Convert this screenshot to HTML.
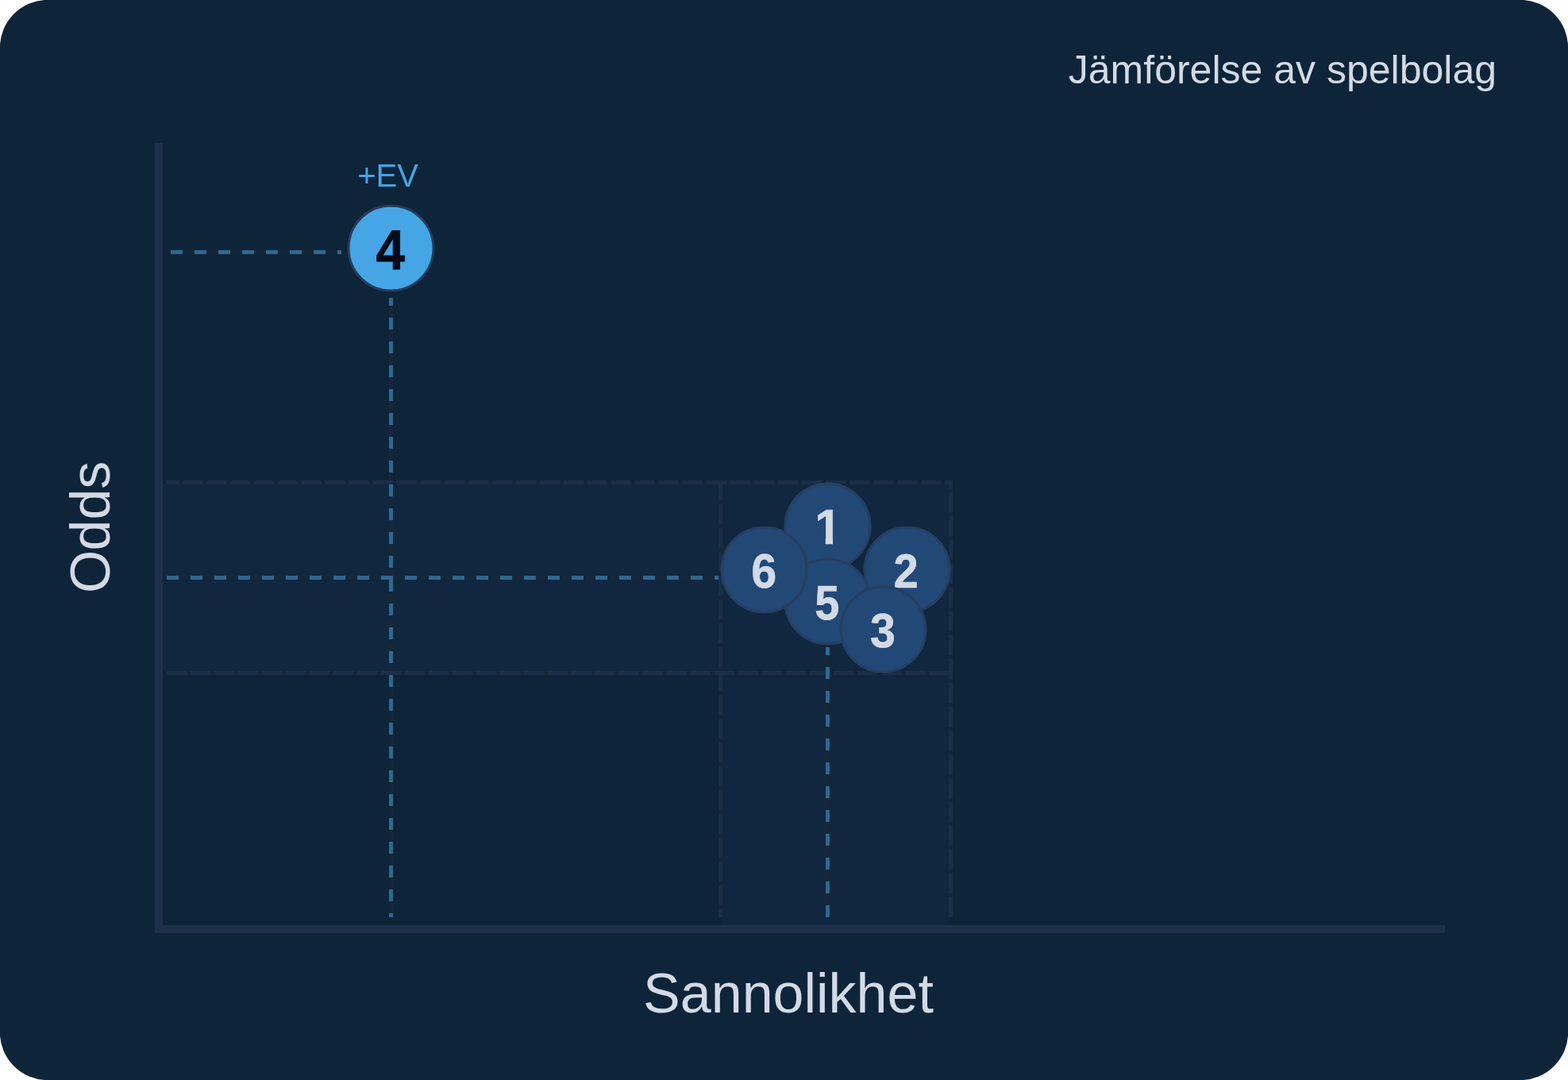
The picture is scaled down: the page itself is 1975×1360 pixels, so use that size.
<!DOCTYPE html>
<html lang="sv">
<head>
<meta charset="utf-8">
<title>Jämförelse av spelbolag</title>
<style>
html,body{margin:0;padding:0;background:#ffffff;}
body{width:1975px;height:1360px;overflow:hidden;font-family:"Liberation Sans",sans-serif;}
.card{position:absolute;left:0;top:0;width:1975px;height:1360px;overflow:hidden;}
svg{position:absolute;left:0;top:0;display:block;}
svg text{font-family:"Liberation Sans",sans-serif;}
.geo rect{shape-rendering:crispEdges;}
</style>
</head>
<body>
<div class="card">
<svg width="1975" height="1360" viewBox="0 0 1975 1360">
<rect x="-0.13" y="-0.13" width="1975.26" height="1360.26" rx="60" ry="60" fill="#0e2439"/>
<defs><clipPath id="one"><path d="M-2 -48 H22.7 V2 H13.5 V-7.2 H-2 Z"/></clipPath></defs>
<g class="geo">
<rect x="205" y="610" width="990" height="235" fill="#11273f"/>
<rect x="910" y="610" width="285" height="555" fill="#11273f"/>
<rect x="215" y="315" width="215" height="5" fill="#172638"/>
<rect x="490" y="375" width="5" height="780" fill="#172638"/>
<rect x="210" y="725" width="695" height="5" fill="#172638"/>
<rect x="1040" y="815" width="5" height="340" fill="#172638"/>
<rect x="210" y="605" width="990" height="5" fill="#152638"/>
<rect x="210" y="605" width="15" height="5" fill="#1b2e47"/>
<rect x="230" y="605" width="25" height="5" fill="#1b2e47"/>
<rect x="260" y="605" width="25" height="5" fill="#1b2e47"/>
<rect x="290" y="605" width="25" height="5" fill="#1b2e47"/>
<rect x="320" y="605" width="25" height="5" fill="#1b2e47"/>
<rect x="350" y="605" width="25" height="5" fill="#1b2e47"/>
<rect x="380" y="605" width="25" height="5" fill="#1b2e47"/>
<rect x="410" y="605" width="25" height="5" fill="#1b2e47"/>
<rect x="440" y="605" width="25" height="5" fill="#1b2e47"/>
<rect x="470" y="605" width="25" height="5" fill="#1b2e47"/>
<rect x="500" y="605" width="25" height="5" fill="#1b2e47"/>
<rect x="530" y="605" width="25" height="5" fill="#1b2e47"/>
<rect x="560" y="605" width="25" height="5" fill="#1b2e47"/>
<rect x="590" y="605" width="25" height="5" fill="#1b2e47"/>
<rect x="620" y="605" width="25" height="5" fill="#1b2e47"/>
<rect x="650" y="605" width="25" height="5" fill="#1b2e47"/>
<rect x="680" y="605" width="25" height="5" fill="#1b2e47"/>
<rect x="710" y="605" width="25" height="5" fill="#1b2e47"/>
<rect x="740" y="605" width="25" height="5" fill="#1b2e47"/>
<rect x="770" y="605" width="25" height="5" fill="#1b2e47"/>
<rect x="800" y="605" width="25" height="5" fill="#1b2e47"/>
<rect x="830" y="605" width="25" height="5" fill="#1b2e47"/>
<rect x="860" y="605" width="25" height="5" fill="#1b2e47"/>
<rect x="890" y="605" width="25" height="5" fill="#1b2e47"/>
<rect x="920" y="605" width="25" height="5" fill="#1b2e47"/>
<rect x="950" y="605" width="25" height="5" fill="#1b2e47"/>
<rect x="980" y="605" width="25" height="5" fill="#1b2e47"/>
<rect x="1010" y="605" width="25" height="5" fill="#1b2e47"/>
<rect x="1040" y="605" width="25" height="5" fill="#1b2e47"/>
<rect x="1070" y="605" width="25" height="5" fill="#1b2e47"/>
<rect x="1100" y="605" width="25" height="5" fill="#1b2e47"/>
<rect x="1130" y="605" width="25" height="5" fill="#1b2e47"/>
<rect x="1160" y="605" width="25" height="5" fill="#1b2e47"/>
<rect x="1190" y="605" width="10" height="5" fill="#1b2e47"/>
<rect x="210" y="845" width="985" height="5" fill="#152638"/>
<rect x="210" y="845" width="25" height="5" fill="#1b2e47"/>
<rect x="240" y="845" width="25" height="5" fill="#1b2e47"/>
<rect x="270" y="845" width="25" height="5" fill="#1b2e47"/>
<rect x="300" y="845" width="25" height="5" fill="#1b2e47"/>
<rect x="330" y="845" width="25" height="5" fill="#1b2e47"/>
<rect x="360" y="845" width="25" height="5" fill="#1b2e47"/>
<rect x="390" y="845" width="25" height="5" fill="#1b2e47"/>
<rect x="420" y="845" width="25" height="5" fill="#1b2e47"/>
<rect x="450" y="845" width="25" height="5" fill="#1b2e47"/>
<rect x="480" y="845" width="25" height="5" fill="#1b2e47"/>
<rect x="510" y="845" width="25" height="5" fill="#1b2e47"/>
<rect x="540" y="845" width="25" height="5" fill="#1b2e47"/>
<rect x="570" y="845" width="25" height="5" fill="#1b2e47"/>
<rect x="600" y="845" width="25" height="5" fill="#1b2e47"/>
<rect x="630" y="845" width="25" height="5" fill="#1b2e47"/>
<rect x="660" y="845" width="25" height="5" fill="#1b2e47"/>
<rect x="690" y="845" width="25" height="5" fill="#1b2e47"/>
<rect x="720" y="845" width="25" height="5" fill="#1b2e47"/>
<rect x="750" y="845" width="25" height="5" fill="#1b2e47"/>
<rect x="780" y="845" width="25" height="5" fill="#1b2e47"/>
<rect x="810" y="845" width="25" height="5" fill="#1b2e47"/>
<rect x="840" y="845" width="25" height="5" fill="#1b2e47"/>
<rect x="870" y="845" width="25" height="5" fill="#1b2e47"/>
<rect x="900" y="845" width="25" height="5" fill="#1b2e47"/>
<rect x="930" y="845" width="25" height="5" fill="#1b2e47"/>
<rect x="960" y="845" width="25" height="5" fill="#1b2e47"/>
<rect x="990" y="845" width="25" height="5" fill="#1b2e47"/>
<rect x="1020" y="845" width="25" height="5" fill="#1b2e47"/>
<rect x="1050" y="845" width="25" height="5" fill="#1b2e47"/>
<rect x="1080" y="845" width="25" height="5" fill="#1b2e47"/>
<rect x="1110" y="845" width="25" height="5" fill="#1b2e47"/>
<rect x="1140" y="845" width="25" height="5" fill="#1b2e47"/>
<rect x="1170" y="845" width="25" height="5" fill="#1b2e47"/>
<rect x="905" y="610" width="5" height="545" fill="#152638"/>
<rect x="905" y="610" width="5" height="20" fill="#1b2e47"/>
<rect x="905" y="635" width="5" height="25" fill="#1b2e47"/>
<rect x="905" y="665" width="5" height="25" fill="#1b2e47"/>
<rect x="905" y="695" width="5" height="25" fill="#1b2e47"/>
<rect x="905" y="725" width="5" height="25" fill="#1b2e47"/>
<rect x="905" y="755" width="5" height="25" fill="#1b2e47"/>
<rect x="905" y="785" width="5" height="25" fill="#1b2e47"/>
<rect x="905" y="815" width="5" height="25" fill="#1b2e47"/>
<rect x="905" y="845" width="5" height="25" fill="#1b2e47"/>
<rect x="905" y="875" width="5" height="25" fill="#1b2e47"/>
<rect x="905" y="905" width="5" height="25" fill="#1b2e47"/>
<rect x="905" y="935" width="5" height="25" fill="#1b2e47"/>
<rect x="905" y="965" width="5" height="25" fill="#1b2e47"/>
<rect x="905" y="995" width="5" height="25" fill="#1b2e47"/>
<rect x="905" y="1025" width="5" height="25" fill="#1b2e47"/>
<rect x="905" y="1055" width="5" height="25" fill="#1b2e47"/>
<rect x="905" y="1085" width="5" height="25" fill="#1b2e47"/>
<rect x="905" y="1115" width="5" height="25" fill="#1b2e47"/>
<rect x="905" y="1145" width="5" height="10" fill="#1b2e47"/>
<rect x="1195" y="605" width="5" height="550" fill="#152638"/>
<rect x="1195" y="605" width="5" height="10" fill="#1b2e47"/>
<rect x="1195" y="620" width="5" height="25" fill="#1b2e47"/>
<rect x="1195" y="650" width="5" height="25" fill="#1b2e47"/>
<rect x="1195" y="680" width="5" height="25" fill="#1b2e47"/>
<rect x="1195" y="710" width="5" height="25" fill="#1b2e47"/>
<rect x="1195" y="740" width="5" height="25" fill="#1b2e47"/>
<rect x="1195" y="770" width="5" height="25" fill="#1b2e47"/>
<rect x="1195" y="800" width="5" height="25" fill="#1b2e47"/>
<rect x="1195" y="830" width="5" height="25" fill="#1b2e47"/>
<rect x="1195" y="860" width="5" height="25" fill="#1b2e47"/>
<rect x="1195" y="890" width="5" height="25" fill="#1b2e47"/>
<rect x="1195" y="920" width="5" height="25" fill="#1b2e47"/>
<rect x="1195" y="950" width="5" height="25" fill="#1b2e47"/>
<rect x="1195" y="980" width="5" height="25" fill="#1b2e47"/>
<rect x="1195" y="1010" width="5" height="25" fill="#1b2e47"/>
<rect x="1195" y="1040" width="5" height="25" fill="#1b2e47"/>
<rect x="1195" y="1070" width="5" height="25" fill="#1b2e47"/>
<rect x="1195" y="1100" width="5" height="25" fill="#1b2e47"/>
<rect x="1195" y="1130" width="5" height="25" fill="#1b2e47"/>
<rect x="215" y="315" width="15" height="5" fill="#2f6891"/>
<rect x="245" y="315" width="15" height="5" fill="#2f6891"/>
<rect x="275" y="315" width="15" height="5" fill="#2f6891"/>
<rect x="305" y="315" width="15" height="5" fill="#2f6891"/>
<rect x="335" y="315" width="15" height="5" fill="#2f6891"/>
<rect x="365" y="315" width="15" height="5" fill="#2f6891"/>
<rect x="395" y="315" width="15" height="5" fill="#2f6891"/>
<rect x="425" y="315" width="5" height="5" fill="#2f6891"/>
<rect x="490" y="375" width="5" height="10" fill="#2f6891"/>
<rect x="490" y="400" width="5" height="15" fill="#2f6891"/>
<rect x="490" y="430" width="5" height="15" fill="#2f6891"/>
<rect x="490" y="460" width="5" height="15" fill="#2f6891"/>
<rect x="490" y="490" width="5" height="15" fill="#2f6891"/>
<rect x="490" y="520" width="5" height="15" fill="#2f6891"/>
<rect x="490" y="550" width="5" height="15" fill="#2f6891"/>
<rect x="490" y="580" width="5" height="15" fill="#2f6891"/>
<rect x="490" y="610" width="5" height="15" fill="#2f6891"/>
<rect x="490" y="640" width="5" height="15" fill="#2f6891"/>
<rect x="490" y="670" width="5" height="15" fill="#2f6891"/>
<rect x="490" y="700" width="5" height="15" fill="#2f6891"/>
<rect x="490" y="730" width="5" height="15" fill="#2f6891"/>
<rect x="490" y="760" width="5" height="15" fill="#2f6891"/>
<rect x="490" y="790" width="5" height="15" fill="#2f6891"/>
<rect x="490" y="820" width="5" height="15" fill="#2f6891"/>
<rect x="490" y="850" width="5" height="15" fill="#2f6891"/>
<rect x="490" y="880" width="5" height="15" fill="#2f6891"/>
<rect x="490" y="910" width="5" height="15" fill="#2f6891"/>
<rect x="490" y="940" width="5" height="15" fill="#2f6891"/>
<rect x="490" y="970" width="5" height="15" fill="#2f6891"/>
<rect x="490" y="1000" width="5" height="15" fill="#2f6891"/>
<rect x="490" y="1030" width="5" height="15" fill="#2f6891"/>
<rect x="490" y="1060" width="5" height="15" fill="#2f6891"/>
<rect x="490" y="1090" width="5" height="15" fill="#2f6891"/>
<rect x="490" y="1120" width="5" height="15" fill="#2f6891"/>
<rect x="490" y="1150" width="5" height="5" fill="#2f6891"/>
<rect x="210" y="725" width="15" height="5" fill="#2f6891"/>
<rect x="240" y="725" width="15" height="5" fill="#2f6891"/>
<rect x="270" y="725" width="15" height="5" fill="#2f6891"/>
<rect x="300" y="725" width="15" height="5" fill="#2f6891"/>
<rect x="330" y="725" width="15" height="5" fill="#2f6891"/>
<rect x="360" y="725" width="15" height="5" fill="#2f6891"/>
<rect x="390" y="725" width="15" height="5" fill="#2f6891"/>
<rect x="420" y="725" width="15" height="5" fill="#2f6891"/>
<rect x="450" y="725" width="15" height="5" fill="#2f6891"/>
<rect x="480" y="725" width="15" height="5" fill="#2f6891"/>
<rect x="510" y="725" width="15" height="5" fill="#2f6891"/>
<rect x="540" y="725" width="15" height="5" fill="#2f6891"/>
<rect x="570" y="725" width="15" height="5" fill="#2f6891"/>
<rect x="600" y="725" width="15" height="5" fill="#2f6891"/>
<rect x="630" y="725" width="15" height="5" fill="#2f6891"/>
<rect x="660" y="725" width="15" height="5" fill="#2f6891"/>
<rect x="690" y="725" width="15" height="5" fill="#2f6891"/>
<rect x="720" y="725" width="15" height="5" fill="#2f6891"/>
<rect x="750" y="725" width="15" height="5" fill="#2f6891"/>
<rect x="780" y="725" width="15" height="5" fill="#2f6891"/>
<rect x="810" y="725" width="15" height="5" fill="#2f6891"/>
<rect x="840" y="725" width="15" height="5" fill="#2f6891"/>
<rect x="870" y="725" width="15" height="5" fill="#2f6891"/>
<rect x="900" y="725" width="5" height="5" fill="#2f6891"/>
<rect x="1040" y="815" width="5" height="10" fill="#2f6891"/>
<rect x="1040" y="840" width="5" height="15" fill="#2f6891"/>
<rect x="1040" y="870" width="5" height="15" fill="#2f6891"/>
<rect x="1040" y="900" width="5" height="15" fill="#2f6891"/>
<rect x="1040" y="930" width="5" height="15" fill="#2f6891"/>
<rect x="1040" y="960" width="5" height="15" fill="#2f6891"/>
<rect x="1040" y="990" width="5" height="15" fill="#2f6891"/>
<rect x="1040" y="1020" width="5" height="15" fill="#2f6891"/>
<rect x="1040" y="1050" width="5" height="15" fill="#2f6891"/>
<rect x="1040" y="1080" width="5" height="15" fill="#2f6891"/>
<rect x="1040" y="1110" width="5" height="15" fill="#2f6891"/>
<rect x="1040" y="1140" width="5" height="15" fill="#2f6891"/>
<rect x="195" y="180" width="10" height="995" fill="#1e304a"/>
<rect x="195" y="1165" width="1625" height="10" fill="#1e304a"/>
</g>
<g><circle cx="1042.5" cy="662.5" r="53.5" fill="#224876" stroke="#263f61" stroke-width="3"/><text transform="translate(1026.15 685.00) scale(1.0099 1.0383)" x="0" y="0" font-size="60" font-weight="700" fill="#d3dae6" stroke="#d3dae6" stroke-width="0.6" stroke-linejoin="round" text-rendering="geometricPrecision" clip-path="url(#one)">1</text></g>
<g><circle cx="1142.5" cy="717.5" r="53.5" fill="#224876" stroke="#263f61" stroke-width="3"/><text transform="translate(1125.45 740.00) scale(0.9341 1.0081)" x="0" y="0" font-size="60" font-weight="700" fill="#d3dae6" stroke="#d3dae6" stroke-width="0.6" stroke-linejoin="round" text-rendering="geometricPrecision">2</text></g>
<g><circle cx="1042.5" cy="757.5" r="53.5" fill="#224876" stroke="#263f61" stroke-width="3"/><text transform="translate(1026.35 780.00) scale(0.9346 1.0175)" x="0" y="0" font-size="60" font-weight="700" fill="#d3dae6" stroke="#d3dae6" stroke-width="0.6" stroke-linejoin="round" text-rendering="geometricPrecision">5</text></g>
<g><circle cx="962.5" cy="717.5" r="53.5" fill="#224876" stroke="#263f61" stroke-width="3"/><text transform="translate(946.19 740.00) scale(0.9570 1.0149)" x="0" y="0" font-size="60" font-weight="700" fill="#d3dae6" stroke="#d3dae6" stroke-width="0.6" stroke-linejoin="round" text-rendering="geometricPrecision">6</text></g>
<g><circle cx="1112.5" cy="792.5" r="53.5" fill="#224876" stroke="#263f61" stroke-width="3"/><text transform="translate(1095.95 815.00) scale(0.9548 1.0149)" x="0" y="0" font-size="60" font-weight="700" fill="#d3dae6" stroke="#d3dae6" stroke-width="0.6" stroke-linejoin="round" text-rendering="geometricPrecision">3</text></g>
<g><circle cx="492.5" cy="312.5" r="53.5" fill="#45a5e5" stroke="#263b5c" stroke-width="3"/><text transform="translate(473.49 339.00) scale(0.9397 1.0070)" x="0" y="0" font-size="70" font-weight="700" fill="#050b18" stroke="#050b18" stroke-width="0.8" stroke-linejoin="round" text-rendering="geometricPrecision">4</text></g>
<text x="1885" y="105" text-anchor="end" font-size="50" fill="#d3dae6">Jämförelse av spelbolag</text>
<text x="488.5" y="235" text-anchor="middle" font-size="40" fill="#45a5e5">+EV</text>
<text x="993" y="1274.6" text-anchor="middle" font-size="70" fill="#d3dae6">Sannolikhet</text>
<text transform="translate(137.5 663.8) rotate(-90)" text-anchor="middle" font-size="70" fill="#d3dae6" dx="0 -1">Odds</text>
</svg>
</div>
</body>
</html>
